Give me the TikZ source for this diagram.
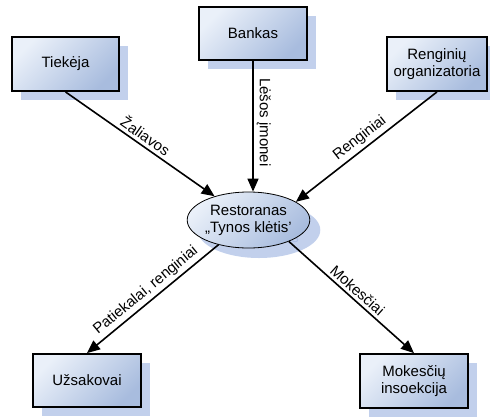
\documentclass[tikz,border=0pt]{standalone}
\usepackage{fontspec}
\setmainfont{Liberation Sans}
\usetikzlibrary{arrows.meta,shadows,shapes.geometric}

\definecolor{boxlight}{RGB}{234,240,249}
\definecolor{boxdark}{RGB}{168,188,222}
\definecolor{shadowblue}{RGB}{194,208,236}
\definecolor{ghosttext}{RGB}{170,188,226}

\begin{document}
\begin{tikzpicture}[x=1pt,y=-1pt,->,>={Triangle[length=13pt,width=11pt]},line width=1.6pt,
  actor node/.style={rectangle,draw,line width=1.8pt,minimum width=107pt,minimum height=54pt,align=center,
    top color=boxlight,bottom color=boxdark,shading angle=45,font=\fontsize{15pt}{17pt}\selectfont,
    drop shadow={shadow xshift=9pt,shadow yshift=-9pt,fill=shadowblue,opacity=1}},
  process node/.style={ellipse,draw,line width=0.8pt,minimum width=97pt,minimum height=56pt,inner sep=0pt,align=center,
    top color=boxlight,bottom color=boxdark,shading angle=45,font=\fontsize{15pt}{17pt}\selectfont}]
  \useasboundingbox (0,0) rectangle (490,416);

  \node[actor node] (tiekeja) at (65.5,64) {Tiekėja};
  \node[actor node,minimum width=108pt,minimum height=53pt] (bankas) at (253,33.5) {Bankas};
  \node[actor node,minimum width=100pt] (renginiai) at (437,64) {Renginių\\organizatoria};
  \node[actor node,minimum width=108pt,minimum height=53pt] (uzsakovai) at (87,380.5) {Užsakovai};
  \node[actor node,minimum width=108pt] (mokesciai) at (414,381) {Mokesčių\\insoekcija};

  % shadow of the restaurant
  \node[process node,draw=none,top color=shadowblue,bottom color=shadowblue,text=ghosttext] (restoshadow) at (259,230) {Restoranas\\„Tynos klėtis’};
  \node[process node] (resto) at (248.5,220) {Restoranas\\„Tynos klėtis’};

\path[every node/.style={font=\fontsize{15pt}{17pt}\selectfont,sloped,above,inner sep=3pt}]
  (tiekeja.south) edge node {Žaliavos} (resto)
  (bankas) edge node[pos=0.47] {Lėšos įmonei} (bankas |- resto.north)
  (renginiai.south) edge node {Renginiai} (resto.21)
  (resto) edge node {Patiekalai, renginiai} (uzsakovai.north)
  (resto.-28) edge node {Mokesčiai} (mokesciai.north)
;
\end{tikzpicture}
\end{document}
